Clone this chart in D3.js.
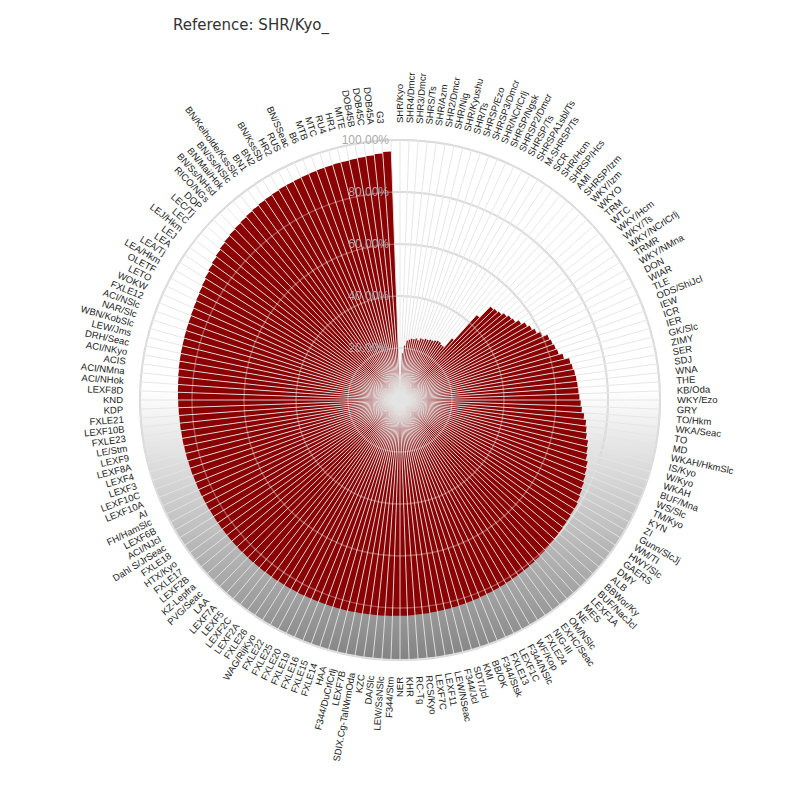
<!DOCTYPE html>
<html><head><meta charset="utf-8">
<script src="https://cdnjs.cloudflare.com/ajax/libs/d3/7.8.5/d3.min.js"></script>
<style>body{margin:0;background:#fff}</style></head>
<body><svg id="c" width="800" height="800"></svg>
<script>
const title = "Reference: SHR/Kyo_";
const categories = ["SHR/Kyo","SHR4/Dmcr","SHR3/Dmcr","SHRS/Ts","SHR/Azm","SHR2/Dmcr","SHR/Nig","SHR/Kyushu","SHR/Ts","SHRSP/Ezo","SHRSP3/Dmcr","SHR/NCrlCrlj","SHRSP/Ngsk","SHRSP2/Dmcr","SHRSP/Ts","SHRSPA1sbl/Ts","M-SHRSP/Ts","SCR","SHR/Hcm","SHRSP/Hcs","AMI","SHRSP/Izm","WKY/Izm","WKYO","TRM","WTC","WKY/Hcm","WKY/Ts","WKY/NCrlCrlj","TRMR","WKY/NMna","DON","WIAR","TLE","ODS/ShiJcl","IEW","ICR","IER","GK/Slc","ZIMY","SER","SDJ","WNA","THE","KB/Oda","WKY/Ezo","GRY","TO/Hkm","WKA/Seac","TO","MD","WKAH/HkmSlc","IS/Kyo","W/Kyo","WKAH","BUF/Mna","WS/Slc","TM/Kyo","KYN","ZI","Gunn/SlcJj","WM/TI","HWY/Slc","GAERS","DMY","ALB","BBWor/Ky","BUF/NacJcl","LEXF1A","MES","NE","OM/NSlc","EXHC/Seac","NIG-III","FXLE24","WF/Kop","F344/NSlc","LEXF1C","FXLE13","F344/Stsk","BB/OK","KMI","SDT/Jcl","F344/Jcl","LEW/NSeac","LEXF11","LEXF7C","RCS/Kyo","RC-Tg","KHR","NER","F344/Stm","LEW/SsNSlc","DA/Slc","KZC","SDIX.Cg-TalWrmOda","LEXF7B","F344/DuCrlCrlj","HAA","FXLE14","FXLE15","FXLE16","FXLE19","FXLE20","FXLE25","FXLE22","WAG/RijKyo","FXLE26","LEXF2A","LEXF2C","LEXF5","LEXF7A","LAA","PVG/Seac","KZ-Lepfra","LEXF2B","FXLE17","HTX/Kyo","FXLE18","Dahl S/JrSeac","ACI/NJcl","LEXF6B","FH/HamSlc","AI","LEXF10A","LEXF10C","LEXF3","LEXF4","LEXF8A","LEXF9","LE/Stm","FXLE23","LEXF10B","FXLE21","KDP","KND","LEXF8D","ACI/NHok","ACI/NMna","ACIS","ACI/NKyo","DRH/Seac","LEW/Jms","WBN/KobSlc","NAR/Slc","ACI/NSlc","FXLE12","WOKW","LETO","OLETF","LEA/Hkm","LEA/Tj","LEA","LEJ","LEJ/Hkm","LEC","LEC/Tj","DOP","RICO/NGs","BN/Ss/NHsd","BN/Mai/Hok","BN/Ss/NSlc","BN/Keiholde/KssSlc","BN1","BN2","BN/KssSb","HR2","RUS","BN/SSeac","B6","MTB","MTC","RU4","HR1","MITE","DOB45B","DOB45C","DOB45A","G3",""];
const values = [0,18,21,23,23.5,24,24,24.5,24,25,25,25.5,25.5,26,26,26.5,27,27,26.5,26.5,31,44,
 50,50.5,51,52,53,53.5,55,56.5,57.5,58.5,60,62,62.5,63,63.5,65,67,67.5,68,68.3,68.5,68.7,69,69.5,
 70,71,72,72.5,73,74,74.5,75,76,76.5,77,77.5,78,78.5,79,
 79,79.2,79.4,79.6,79.8,80,80.2,80.4,80.6,80.8,81,81.1,81.2,81.3,81.5,81.6,81.7,81.8,82,82.1,
 82.2,82.3,82.4,82.5,82.6,82.7,82.8,82.9,83,83,83.1,83.2,83.2,83.3,83.4,83.4,83.5,83.5,83.6,83.6,
 83.7,83.7,83.8,83.8,83.9,83.9,84,84,84.1,84.1,84.2,84.2,84.3,84.3,84.4,84.4,84.5,84.5,84.5,84.6,84.6,84.7,84.7,84.7,84.8,84.8,84.9,84.9,85,85,85.1,85.1,85.2,85.3,85.4,85.5,85.6,
 85.8,86,86.1,86.2,86.3,86.4,86.5,86.6,86.8,87,87.3,87.6,88,
 88.5,89,89.5,90,90.5,91,91.3,91.6,91.9,92.2,92.5,92.8,93,93.2,93.4,
 93.5,93.6,93.7,93.8,93.9,94,94.1,94.2,94.3,94.5,94.7,95,95.6,
 0];
const tickValues = [20,40,60,80,100];
const tickLabels = ["20.00%","40.00%","60.00%","80.00%","100.00%"];

const cx = 400, cy = 400, outerR = 260, labelR = 277;
const svg = d3.select("#c");
const defs = svg.append("defs");
const grad = defs.append("linearGradient").attr("id","bg").attr("x1",0).attr("y1",0).attr("x2",0).attr("y2",1);
grad.append("stop").attr("offset","0%").attr("stop-color","#ffffff");
grad.append("stop").attr("offset","48%").attr("stop-color","#ffffff");
grad.append("stop").attr("offset","100%").attr("stop-color","#838383");

svg.append("text").attr("x",173).attr("y",30)
  .attr("font-family","DejaVu Sans, Verdana, sans-serif").attr("font-size",15).attr("fill","#333")
  .text(title);

const g = svg.append("g").attr("transform",`translate(${cx},${cy})`);
const idx = d3.range(categories.length);
const x = d3.scaleBand().domain(idx).range([0, 2*Math.PI]).padding(0);
const y = d3.scaleLinear().domain([0,100]).range([0,outerR]);

g.append("circle").attr("r", y(100)).attr("fill","url(#bg)");

// rings under the bars
g.append("g").selectAll("circle").data(tickValues).join("circle")
  .attr("r", d => y(d)).attr("fill","none").attr("stroke","#d0d0d0").attr("stroke-width",2);

const arc = d3.arc().innerRadius(0)
  .outerRadius(i => y(values[i]))
  .startAngle(i => x(i)).endAngle(i => x(i) + x.bandwidth());
g.append("g").selectAll("path").data(idx).join("path")
  .attr("d", arc).attr("fill","#8b0000");

// radial grid lines at band boundaries
g.append("g").selectAll("line").data(idx).join("line")
  .attr("x1",0).attr("y1",0)
  .attr("x2", i => y(100)*Math.sin(x(i)))
  .attr("y2", i => -y(100)*Math.cos(x(i)))
  .attr("stroke","#e4e4e4").attr("stroke-width",0.9);

// faint rings over the bars
g.append("g").selectAll("circle").data(tickValues).join("circle")
  .attr("r", d => y(d)).attr("fill","none").attr("stroke","#ffffff")
  .attr("stroke-opacity",0.3).attr("stroke-width",1.5);

// tick labels
g.append("g").selectAll("text").data(tickValues).join("text")
  .attr("x",-11).attr("y", d => -y(d)).attr("dy","0.35em")
  .attr("text-anchor","end").attr("font-family","Liberation Sans, Arial, sans-serif")
  .attr("font-size",12).attr("fill","#aaaaaa")
  .text((d,i) => tickLabels[i]);

// category labels
g.append("g").selectAll("text").data(idx).join("text")
  .attr("font-family","Liberation Sans, Arial, sans-serif").attr("font-size",9.5).attr("fill","#222")
  .attr("dy","0.35em")
  .attr("text-anchor", i => (x(i) < Math.PI ? "start" : "end"))
  .attr("transform", i => {
    const deg = x(i)*180/Math.PI;
    return x(i) < Math.PI
      ? `rotate(${deg-90}) translate(${labelR},0)`
      : `rotate(${deg-90}) translate(${labelR},0) rotate(180)`;
  })
  .text(i => categories[i]);
</script></body></html>
